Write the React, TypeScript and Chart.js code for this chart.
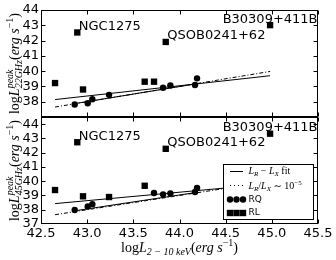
import React, { useEffect, useRef } from 'react';
import { Chart, registerables } from 'chart.js';

Chart.register(...registerables);

// ---------- data ----------
const xTickValues = [42.5, 43.0, 43.5, 44.0, 44.5, 45.0, 45.5];
const yTickValues = [37, 38, 39, 40, 41, 42, 43, 44];

// 22 GHz panel
const rq22X = [42.865, 43.006, 43.056, 43.237, 43.822, 43.901, 44.168, 44.19];
const rq22Y = [37.82, 37.9, 38.16, 38.45, 38.91, 39.07, 39.09, 39.53];
const rl22X = [42.652, 42.893, 42.955, 43.623, 43.724, 43.851, 44.981];
const rl22Y = [39.22, 42.53, 38.8, 39.31, 39.31, 41.91, 43.01];
const fit22X = [42.652, 44.981];
const fit22Y = [38.14, 39.7];
const rqFit22X = [42.87, 44.19];
const rqFit22Y = [37.88, 39.18];

// 45 GHz panel
const rq45X = [42.865, 43.006, 43.056, 43.724, 43.822, 43.901, 44.168, 44.19];
const rq45Y = [37.98, 38.23, 38.39, 39.17, 39.08, 39.15, 39.24, 39.52];
const rl45X = [42.652, 42.893, 42.955, 43.237, 43.623, 43.851, 44.981];
const rl45Y = [39.38, 42.73, 38.94, 38.89, 39.68, 42.27, 43.33];
const fit45X = [42.652, 44.981];
const fit45Y = [38.43, 39.81];
const rqFit45X = [42.87, 44.19];
const rqFit45Y = [37.93, 39.22];

// L_R / L_X ~ 1e-5 reference line
const ratioX = [42.652, 44.981];
const ratioY = [37.652, 39.981];

// labelled sources (index into RL arrays)
const annotNames = ['NGC1275', 'QSOB0241+62', 'B30309+411B'];
const annotIndex = [1, 5, 6];
const annotAlign: CanvasTextAlign[] = ['left', 'left', 'center'];

// ---------- helpers ----------
const pts = (xs: number[], ys: number[]) => xs.map((x, i) => ({ x, y: ys[i] }));
const SERIF = '"Liberation Serif", "DejaVu Serif", serif';
const SANS = '"DejaVu Sans", sans-serif';
const DASHDOT = [4, 2, 1, 2];

type Seg = { t: string; font: string; dy: number; hold?: boolean };

function segWidth(ctx: CanvasRenderingContext2D, segs: Seg[]) {
  let w = 0;
  let held = 0;
  for (const s of segs) {
    ctx.font = s.font;
    const m = ctx.measureText(s.t).width;
    if (s.hold) {
      held = m;
      continue;
    }
    w += Math.max(m, held);
    held = 0;
  }
  return w;
}

function drawSegs(ctx: CanvasRenderingContext2D, segs: Seg[], x: number, y: number) {
  let cx = x;
  let held = 0;
  ctx.textAlign = 'left';
  ctx.textBaseline = 'alphabetic';
  for (const s of segs) {
    ctx.font = s.font;
    const m = ctx.measureText(s.t).width;
    ctx.fillText(s.t, cx, y + s.dy);
    if (s.hold) {
      held = m;
      continue;
    }
    cx += Math.max(m, held);
    held = 0;
  }
}

const M = 14;
const S = 10;
const yTitle = (sub: string): Seg[] => [
  { t: 'log', font: `${M}px ${SERIF}`, dy: 0 },
  { t: 'L', font: `italic ${M}px ${SERIF}`, dy: 0 },
  { t: 'peak', font: `italic ${S}px ${SERIF}`, dy: -6, hold: true },
  { t: sub, font: `italic ${S}px ${SERIF}`, dy: 3 },
  { t: '(', font: `${M}px ${SERIF}`, dy: 0 },
  { t: 'erg', font: `italic ${M}px ${SERIF}`, dy: 0 },
  { t: ' s', font: `italic ${M}px ${SERIF}`, dy: 0 },
  { t: '−1', font: `${S}px ${SERIF}`, dy: -6 },
  { t: ')', font: `${M}px ${SERIF}`, dy: 0 },
];
const xTitle: Seg[] = [
  { t: 'log', font: `${M}px ${SERIF}`, dy: 0 },
  { t: 'L', font: `italic ${M}px ${SERIF}`, dy: 0 },
  { t: '2 − 10 keV', font: `italic ${S}px ${SERIF}`, dy: 3 },
  { t: '(', font: `${M}px ${SERIF}`, dy: 0 },
  { t: 'erg', font: `italic ${M}px ${SERIF}`, dy: 0 },
  { t: ' s', font: `italic ${M}px ${SERIF}`, dy: 0 },
  { t: '−1', font: `${S}px ${SERIF}`, dy: -6 },
  { t: ')', font: `${M}px ${SERIF}`, dy: 0 },
];

const LF = 10;
const LS = 7;
const legFit: Seg[] = [
  { t: 'L', font: `italic ${LF}px ${SERIF}`, dy: 0 },
  { t: 'R', font: `italic ${LS}px ${SERIF}`, dy: 2 },
  { t: ' − ', font: `${LF}px ${SERIF}`, dy: 0 },
  { t: 'L', font: `italic ${LF}px ${SERIF}`, dy: 0 },
  { t: 'X', font: `italic ${LS}px ${SERIF}`, dy: 2 },
  { t: ' fit', font: `${LF}px ${SERIF}`, dy: 0 },
];
const legRatio: Seg[] = [
  { t: 'L', font: `italic ${LF}px ${SERIF}`, dy: 0 },
  { t: 'R', font: `italic ${LS}px ${SERIF}`, dy: 2 },
  { t: '/', font: `${LF}px ${SERIF}`, dy: 0 },
  { t: 'L', font: `italic ${LF}px ${SERIF}`, dy: 0 },
  { t: 'X', font: `italic ${LS}px ${SERIF}`, dy: 2 },
  { t: ' ∼ 10', font: `${LF}px ${SERIF}`, dy: 0 },
  { t: '−5', font: `${LS}px ${SERIF}`, dy: -4 },
];

const decorPlugin = {
  id: 'decor',
  afterDraw(chart: any) {
    const ctx: CanvasRenderingContext2D = chart.ctx;
    const xs = chart.scales.x;
    const panels = [
      { ys: chart.scales.yTop, rlx: rl22X, rly: rl22Y, title: yTitle('22GHz') },
      { ys: chart.scales.yBot, rlx: rl45X, rly: rl45Y, title: yTitle('45GHz') },
    ];
    ctx.save();
    ctx.strokeStyle = '#000';
    ctx.fillStyle = '#000';
    ctx.lineWidth = 1;
    const line = (a: number, b: number, c: number, d: number) => {
      ctx.beginPath();
      ctx.moveTo(a, b);
      ctx.lineTo(c, d);
      ctx.stroke();
    };
    const L = Math.round(xs.left) + 0.5;
    const R = Math.round(xs.right) - 0.5;
    for (const p of panels) {
      const ys = p.ys;
      const T = Math.round(ys.top) + 0.5;
      const B = Math.round(ys.bottom) - 0.5;
      ctx.strokeRect(L, T, R - L, B - T);
      for (const v of xTickValues) {
        const px = Math.round(xs.getPixelForValue(v)) + 0.5;
        line(px, B, px, B - 4);
        line(px, T, px, T + 4);
      }
      for (const v of yTickValues) {
        const py = Math.round(ys.getPixelForValue(v)) + 0.5;
        if (py < T + 1 || py > B - 1) continue;
        line(L, py, L + 4, py);
        line(R, py, R - 4, py);
      }
      // annotations
      ctx.font = `13px ${SANS}`;
      ctx.textBaseline = 'alphabetic';
      annotNames.forEach((name, k) => {
        const i = annotIndex[k];
        const px = xs.getPixelForValue(p.rlx[i]);
        const py = ys.getPixelForValue(p.rly[i]);
        ctx.textAlign = annotAlign[k];
        ctx.fillText(name, annotAlign[k] === 'left' ? px + 1.5 : px, py - 2.5);
      });
      // y title
      const w = segWidth(ctx, p.title);
      ctx.save();
      ctx.translate(19, (ys.top + ys.bottom) / 2);
      ctx.rotate(-Math.PI / 2);
      drawSegs(ctx, p.title, -w / 2, 0);
      ctx.restore();
    }
    // x title
    const xw = segWidth(ctx, xTitle);
    drawSegs(ctx, xTitle, (xs.left + xs.right) / 2 - xw / 2, 252);

    // legend
    const yb = chart.scales.yBot;
    const bw = 90;
    const bh = 55;
    const bx = Math.round(xs.right - 5.5 - bw) + 0.5;
    const by = Math.round(yb.bottom - 5.5 - bh) + 0.5;
    ctx.fillStyle = '#fff';
    ctx.fillRect(bx, by, bw, bh);
    ctx.strokeStyle = '#000';
    ctx.strokeRect(bx, by, bw, bh);
    ctx.fillStyle = '#000';
    const hx0 = bx + 6.5;
    const hx1 = bx + 19.5;
    const tx = bx + 25;
    const rows = [by + 6, by + 20.5, by + 35, by + 48.5];
    line(hx0, Math.round(rows[0]) + 0.5, hx1, Math.round(rows[0]) + 0.5);
    ctx.setLineDash([1, 3]);
    line(hx0, Math.round(rows[1]) + 0.5, hx1, Math.round(rows[1]) + 0.5);
    ctx.setLineDash([]);
    drawSegs(ctx, legFit, tx, rows[0] + 3.5);
    drawSegs(ctx, legRatio, tx, rows[1] + 3.5);
    const mx = [hx0, (hx0 + hx1) / 2, hx1];
    for (const m of mx) {
      ctx.beginPath();
      ctx.arc(m, rows[2], 3.2, 0, Math.PI * 2);
      ctx.fill();
      ctx.fillRect(m - 3.2, rows[3] - 3.2, 6.4, 6.4);
    }
    ctx.font = `9px ${SANS}`;
    ctx.textAlign = 'left';
    ctx.textBaseline = 'middle';
    ctx.fillText('RQ', tx, rows[2]);
    ctx.fillText('RL', tx, rows[3]);
    ctx.restore();
  },
};

function markerSet(data: { x: number; y: number }[], yAxisID: string, style: string, r: number) {
  return {
    data,
    yAxisID,
    pointStyle: style,
    pointRadius: r,
    pointHoverRadius: r,
    backgroundColor: '#000',
    borderColor: '#000',
    borderWidth: 0,
    showLine: false,
  };
}
function lineSet(data: { x: number; y: number }[], yAxisID: string, dash: number[]) {
  return {
    data,
    yAxisID,
    showLine: true,
    pointRadius: 0,
    borderColor: '#000',
    borderWidth: 1,
    borderDash: dash,
    backgroundColor: '#000',
    fill: false,
  };
}

export default function App() {
  const ref = useRef<HTMLCanvasElement>(null);
  useEffect(() => {
    if (!ref.current) return;
    const tickFont = { family: 'DejaVu Sans', size: 13 };
    const yScale = (max: number, hideMin: boolean) => ({
      type: 'linear' as const,
      position: 'left' as const,
      stack: 'panels',
      stackWeight: 1,
      min: 37,
      max,
      afterBuildTicks: (s: any) => {
        s.ticks = yTickValues.map((v) => ({ value: v }));
      },
      afterFit: (s: any) => {
        s.width = 41;
      },
      ticks: {
        font: tickFont,
        color: '#000',
        padding: 2,
        autoSkip: false,
        callback: (v: any) => (hideMin && v === 37 ? '' : String(v)),
      },
      grid: { display: false, drawTicks: false },
      border: { display: false },
    });
    const chart = new Chart(ref.current, {
      type: 'scatter',
      data: {
        datasets: [
          markerSet(pts(rq22X, rq22Y), 'yTop', 'circle', 3.2),
          markerSet(pts(rl22X, rl22Y), 'yTop', 'rect', 4.5),
          markerSet(pts(rq45X, rq45Y), 'yBot', 'circle', 3.2),
          markerSet(pts(rl45X, rl45Y), 'yBot', 'rect', 4.5),
          lineSet(pts(fit22X, fit22Y), 'yTop', []),
          lineSet(pts(rqFit22X, rqFit22Y), 'yTop', []),
          lineSet(pts(ratioX, ratioY), 'yTop', DASHDOT),
          lineSet(pts(fit45X, fit45Y), 'yBot', []),
          lineSet(pts(rqFit45X, rqFit45Y), 'yBot', []),
          lineSet(pts(ratioX, ratioY), 'yBot', DASHDOT),
        ] as any,
      },
      options: {
        animation: false,
        responsive: false,
        events: [],
        layout: { padding: { left: 0, right: 18, top: 10, bottom: 0 } },
        plugins: { legend: { display: false }, tooltip: { enabled: false } },
        scales: {
          x: {
            type: 'linear',
            position: 'bottom',
            min: 42.5,
            max: 45.5,
            afterBuildTicks: (s: any) => {
              s.ticks = xTickValues.map((v) => ({ value: v }));
            },
            afterFit: (s: any) => {
              s.height = 36;
            },
            ticks: {
              font: tickFont,
              color: '#000',
              padding: 2,
              maxRotation: 0,
              autoSkip: false,
              callback: (v: any) => Number(v).toFixed(1),
            },
            grid: { display: false, drawTicks: false },
            border: { display: false },
          },
          yBot: yScale(44.5, false),
          yTop: yScale(44, true),
        } as any,
      },
      plugins: [decorPlugin],
    });
    return () => chart.destroy();
  }, []);
  return (
    <div style={{ position: 'absolute', left: 0, top: 0, width: 336, height: 260, background: '#fff' }}>
      <canvas ref={ref} width={336} height={260} style={{ display: 'block' }} />
    </div>
  );
}
